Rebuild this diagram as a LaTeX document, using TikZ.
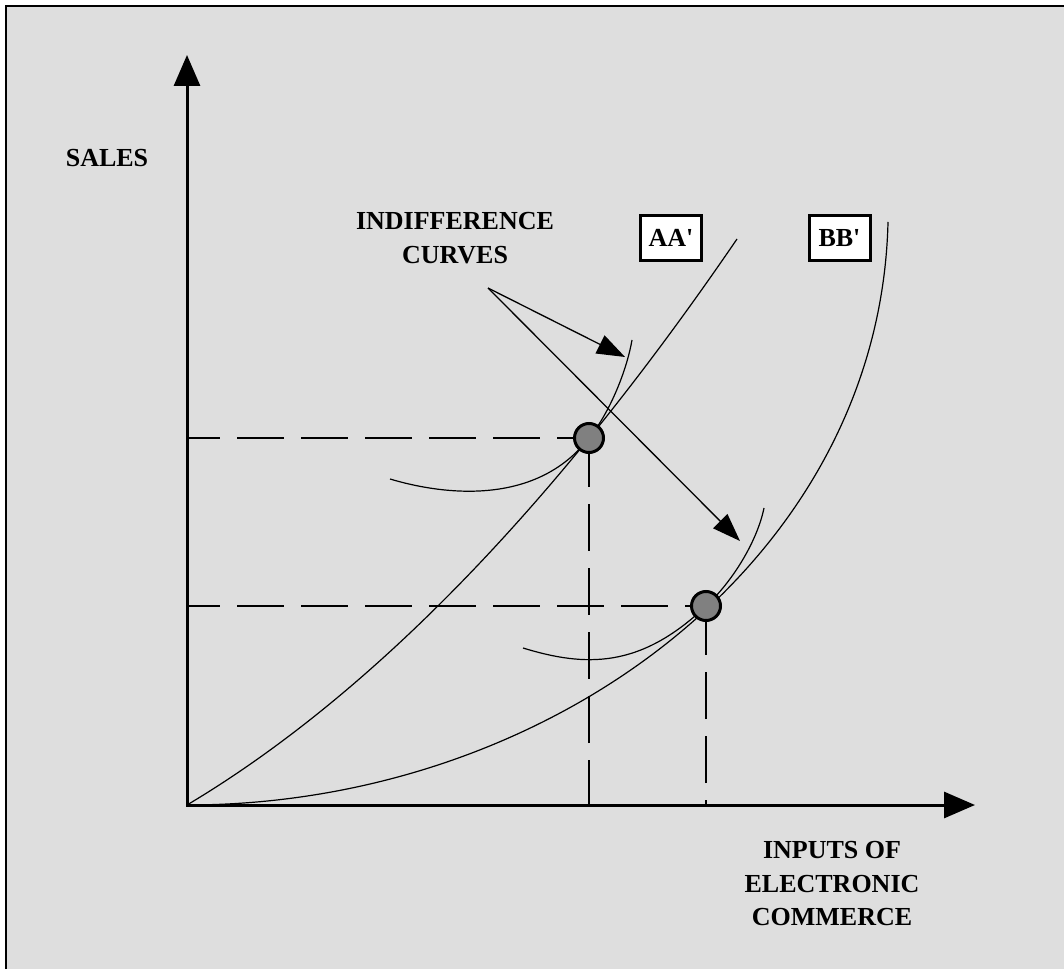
\documentclass[tikz,border=0pt]{standalone}
\usepackage{fontspec}
\setmainfont{Liberation Serif}
\usetikzlibrary{arrows.meta, positioning}
\definecolor{panelGray}{HTML}{DEDEDE}
\definecolor{dotGray}{HTML}{808080}
\tikzset{
    axisLabel/.style={font=\fontsize{26}{33.5}\selectfont\bfseries, align=center, inner sep=0pt},
    tagBox/.style={rectangle, draw=black, line width=3pt, fill=white, minimum width=61pt, minimum height=45pt, inner sep=0pt, font=\fontsize{26}{30}\selectfont\bfseries},
    dotPoint/.style={circle, draw=black, line width=3pt, fill=dotGray, minimum size=29pt, inner sep=0pt},
    axis/.style={line width=3pt, {Triangle[length=31pt, width=26pt]}-{Triangle[length=31pt, width=26pt]}},
    arrow/.style={line width=1.3pt, -{Triangle[length=28pt, width=20pt]}},
    curve/.style={line width=1.2pt},
    dashLine/.style={line width=1.5pt, dash pattern=on 47pt off 17pt}
}
\begin{document}
\begin{tikzpicture}[x=1pt, y=1pt]

    \useasboundingbox (0,0) rectangle (1064,969);
    \fill[white] (0,0) rectangle (1064,969);
    \fill[panelGray] (6,0) rectangle (1064,963);
    \draw[line width=2.5pt] (6,0) -- (6,963) -- (1064,963);

    \coordinate (origin) at (187,164);
    \coordinate (xTip) at (975,164);
    \coordinate (yTip) at (187,914);
    \coordinate (pA) at (589,531);
    \coordinate (pB) at (706,363);
    \coordinate (endAA) at (737,730);
    \coordinate (endBB) at (888,747);
    \coordinate (icTail) at (488,681);
    \coordinate (icTipA) at (625,612);
    \coordinate (icTipB) at (740,428);

    \draw[dashLine, dash phase=14pt] (origin |- pA) -- (pA);
    \draw[dashLine, dash phase=14pt] (origin |- pB) -- (pB);
    \draw[dashLine, dash phase=2pt] (origin -| pA) -- (pA);
    \draw[dashLine, dash phase=42pt] (origin -| pB) -- (pB);

    \draw[curve] (origin) .. controls (370,273) and (554,462) .. (endAA);
    \draw[curve] (origin) .. controls (550,164) and (880,409) .. (endBB);

    \draw[curve] (390,490) .. controls (440,475) and (535,461) .. (pA) .. controls (608,554) and (626,595) .. (632,629);
    \draw[curve] (523,321) .. controls (585,302) and (640,300) .. (pB) .. controls (732,387) and (757,427) .. (764,461);

    \draw[arrow] (icTail) -- (icTipA);
    \draw[arrow] (icTail) -- (icTipB);

    \draw[axis] (xTip) -- (origin) -- (yTip);

    \node (dotA) [dotPoint] at (pA) {};
    \node (dotB) [dotPoint] at (pB) {};

    \node (salesLabel) [axisLabel] at (107,811) {SALES};
    \node (icLabel) [axisLabel] at (455,731) {INDIFFERENCE\\CURVES};
    \node (inputsLabel) [axisLabel] at (832,85) {INPUTS OF\\ELECTRONIC\\COMMERCE};
    \node (tagAA) [tagBox] at (671,731) {AA\textquotesingle};
    \node (tagBB) [tagBox] at (839.5,731) {BB\textquotesingle};

\end{tikzpicture}
\end{document}
